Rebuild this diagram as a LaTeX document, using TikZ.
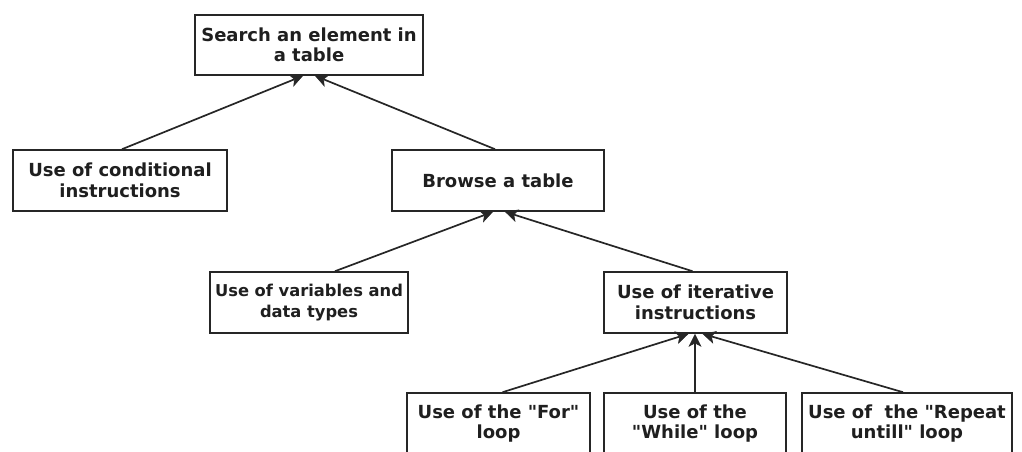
\documentclass[tikz,border=0pt]{standalone}
\usepackage{fontspec}
\setmainfont{DejaVu Sans}
\usetikzlibrary{arrows.meta}
\begin{document}
\begin{tikzpicture}[x=1pt,y=-1pt,
  box/.style={draw=black!85, line width=1.6pt, fill=white, inner sep=0pt, align=center,
    font=\bfseries\fontsize{18}{20.5}\selectfont, text=black!88},
  link/.style={draw=black!85, line width=1.7pt, -{Stealth[length=13pt,width=13pt,inset=3.5pt,line width=0.5pt]}}]
\useasboundingbox (0,0) rectangle (1022,451);
\newcommand{\bx}[6]{\node[box, minimum width=#4-#2, minimum height=#5-#3] (#1) at ({(#2+#4)/2},{(#3+#5)/2}) {#6};}
\newcommand{\qq}{\textquotedbl}
\bx{top}{195}{15}{423}{75}{Search an element in\\a table}
\bx{cond}{13}{150}{227}{211}{Use of conditional\\instructions}
\bx{browse}{392}{150}{604}{211}{Browse a table}
\node[box, minimum width=198, minimum height=61, font=\bfseries\fontsize{16.3}{20.5}\selectfont] (var) at (309,302.5) {Use of variables and\\data types};
\bx{iter}{604}{272}{787}{333}{Use of iterative\\instructions}
\bx{for}{407}{393}{590}{454}{Use of the \qq For\qq\\loop}
\bx{while}{604}{393}{786}{454}{Use of the\\\qq While\qq{} loop}
\bx{repeat}{802}{393}{1012}{454}{Use of~~the \qq Repeat\\untill\qq{} loop}
\draw[link] ([xshift=2pt]cond.north) -- ([xshift=-6pt]top.south);
\draw[link] ([xshift=-3pt]browse.north) -- ([xshift=6pt]top.south);
\draw[link] ([xshift=26pt]var.north) -- ([xshift=-5pt]browse.south);
\draw[link] ([xshift=-3pt]iter.north) -- ([xshift=7pt]browse.south);
\draw[link] ([xshift=4pt]for.north) -- ([xshift=-7pt]iter.south);
\draw[link] (while.north) -- ([xshift=-0.5pt]iter.south);
\draw[link] ([xshift=-4pt]repeat.north) -- ([xshift=7pt]iter.south);
\end{tikzpicture}
\end{document}
